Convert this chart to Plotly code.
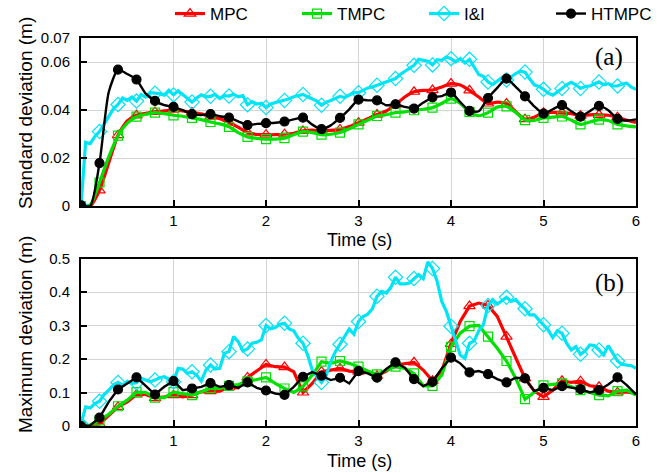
import plotly.graph_objects as go

# ---------------- data ----------------
# time grids (s): controllers sampled every 0.1 s, I&I every 0.05 s
t_ctrl = [round(i * 0.1, 2) for i in range(61)]
t_ii = [round(i * 0.05, 2) for i in range(121)]

# (a) standard deviation of tracking error (m)
std_mpc = [
    0.0, 0.0, 0.0065, 0.018, 0.0295, 0.0355, 0.0378, 0.0386, 0.0392, 0.0396,
    0.0401, 0.0396, 0.039, 0.0384, 0.0372, 0.0364, 0.0348, 0.0328, 0.0307, 0.0298,
    0.0297, 0.0297, 0.0299, 0.0303, 0.0313, 0.0316, 0.0313, 0.0315, 0.0319, 0.0331,
    0.0347, 0.0364, 0.0381, 0.0396, 0.0422, 0.0454, 0.0476, 0.0482, 0.0483, 0.0496,
    0.051, 0.0504, 0.0482, 0.0454, 0.0427, 0.0433, 0.0427, 0.0393, 0.0362, 0.037,
    0.0389, 0.039, 0.0389, 0.0385, 0.0376, 0.038, 0.038, 0.0378, 0.037, 0.0357,
    0.0348,
]
std_tmpc = [
    0.0, 0.0005, 0.0098, 0.0205, 0.0293, 0.0345, 0.0372, 0.0382, 0.0389, 0.0385,
    0.0378, 0.0374, 0.0367, 0.036, 0.035, 0.0342, 0.033, 0.0306, 0.0288, 0.0282,
    0.0279, 0.0279, 0.0283, 0.0297, 0.031, 0.0306, 0.0297, 0.0299, 0.0306, 0.0322,
    0.034, 0.0357, 0.0375, 0.038, 0.0389, 0.0392, 0.0399, 0.0403, 0.041, 0.0427,
    0.0447, 0.0427, 0.0392, 0.0376, 0.0389, 0.0412, 0.0415, 0.039, 0.0358, 0.0357,
    0.0367, 0.037, 0.0373, 0.0358, 0.034, 0.035, 0.036, 0.0356, 0.034, 0.0334,
    0.033,
]
std_htmpc = [
    0.0003, 0.0, 0.0179, 0.0475, 0.0568, 0.055, 0.0527, 0.0468, 0.0438, 0.042,
    0.0413, 0.0399, 0.0383, 0.0379, 0.0383, 0.0374, 0.0368, 0.0353, 0.0337, 0.0342,
    0.0345, 0.0347, 0.0352, 0.0361, 0.0368, 0.0339, 0.032, 0.0336, 0.0367, 0.0403,
    0.0443, 0.044, 0.044, 0.042, 0.0424, 0.0413, 0.0406, 0.0431, 0.0453, 0.0458,
    0.0473, 0.0433, 0.0396, 0.0395, 0.045, 0.0492, 0.0531, 0.0496, 0.0457, 0.0415,
    0.0385, 0.0403, 0.042, 0.0395, 0.0372, 0.0395, 0.0417, 0.0399, 0.0363, 0.0356,
    0.0361,
]
std_ii = [
    0.0, 0.0265, 0.026, 0.029, 0.031, 0.0343, 0.0378, 0.0405, 0.0423, 0.045,
    0.044, 0.0454, 0.0437, 0.0464, 0.0454, 0.0472, 0.047, 0.0468, 0.0462, 0.0482,
    0.0463, 0.048, 0.0465, 0.045, 0.0433, 0.045, 0.0463, 0.0455, 0.0457, 0.0465,
    0.0448, 0.046, 0.0458, 0.0466, 0.0455, 0.046, 0.0422, 0.0435, 0.0425, 0.0428,
    0.041, 0.0425, 0.043, 0.0436, 0.044, 0.0447, 0.0455, 0.046, 0.0465, 0.0455,
    0.0447, 0.0437, 0.042, 0.0433, 0.044, 0.045, 0.0457, 0.0452, 0.0461, 0.0472,
    0.0472, 0.0482, 0.0492, 0.0496, 0.0503, 0.0513, 0.052, 0.0524, 0.0531, 0.0548,
    0.0561, 0.0572, 0.0586, 0.0611, 0.0607, 0.0603, 0.0588, 0.061, 0.0607, 0.0621,
    0.0614, 0.06, 0.0614, 0.0596, 0.0611, 0.058, 0.0548, 0.054, 0.0517, 0.0506,
    0.052, 0.0535, 0.0525, 0.054, 0.0552, 0.0562, 0.0558, 0.053, 0.0505, 0.0498,
    0.0486, 0.047, 0.0462, 0.0475, 0.049, 0.0505, 0.0515, 0.0505, 0.049, 0.0498,
    0.05, 0.0508, 0.0517, 0.0505, 0.051, 0.05, 0.05, 0.0508, 0.0512, 0.0495,
    0.0486,
]

# (b) maximum deviation of tracking error (m)
max_mpc = [
    0.0, 0.0, 0.006, 0.032, 0.057, 0.072, 0.094, 0.094, 0.083, 0.087,
    0.092, 0.087, 0.092, 0.102, 0.104, 0.104, 0.116, 0.114, 0.145, 0.165,
    0.184, 0.177, 0.176, 0.162, 0.1, 0.127, 0.162, 0.167, 0.172, 0.164,
    0.162, 0.16, 0.15, 0.164, 0.182, 0.187, 0.19, 0.167, 0.135, 0.165,
    0.245, 0.312, 0.358, 0.367, 0.36, 0.327, 0.267, 0.202, 0.142, 0.104,
    0.087, 0.107, 0.135, 0.13, 0.134, 0.12, 0.117, 0.104, 0.1, 0.102,
    0.097,
]
max_tmpc = [
    0.0, 0.003, 0.017, 0.035, 0.059, 0.077, 0.101, 0.1, 0.085, 0.085,
    0.101, 0.097, 0.092, 0.102, 0.113, 0.112, 0.12, 0.124, 0.133, 0.139,
    0.145, 0.127, 0.112, 0.1, 0.118, 0.152, 0.192, 0.187, 0.194, 0.187,
    0.177, 0.164, 0.154, 0.167, 0.177, 0.172, 0.157, 0.12, 0.12, 0.152,
    0.236, 0.277, 0.298, 0.3, 0.267, 0.232, 0.194, 0.142, 0.08, 0.102,
    0.121, 0.124, 0.127, 0.117, 0.107, 0.1, 0.092, 0.09, 0.104, 0.107,
    0.092,
]
max_htmpc = [
    0.0, 0.002, 0.025, 0.072, 0.109, 0.127, 0.145, 0.12, 0.094, 0.117,
    0.134, 0.107, 0.112, 0.117, 0.128, 0.117, 0.122, 0.114, 0.13, 0.114,
    0.106, 0.097, 0.093, 0.117, 0.147, 0.161, 0.15, 0.137, 0.144, 0.127,
    0.164, 0.157, 0.144, 0.17, 0.19, 0.174, 0.14, 0.119, 0.132, 0.172,
    0.204, 0.187, 0.16, 0.164, 0.155, 0.14, 0.13, 0.144, 0.142, 0.104,
    0.114, 0.107, 0.119, 0.114, 0.11, 0.1, 0.107, 0.124, 0.145, 0.122,
    0.094,
]
max_ii = [
    0.005, 0.057, 0.054, 0.067, 0.074, 0.094, 0.107, 0.122, 0.13, 0.122,
    0.134, 0.127, 0.129, 0.142, 0.137, 0.132, 0.137, 0.144, 0.147, 0.14,
    0.132, 0.172, 0.17, 0.157, 0.162, 0.152, 0.134, 0.167, 0.182, 0.17,
    0.172, 0.217, 0.222, 0.267, 0.252, 0.224, 0.23, 0.247, 0.25, 0.257,
    0.3, 0.29, 0.294, 0.304, 0.307, 0.29, 0.284, 0.262, 0.247, 0.212,
    0.167, 0.147, 0.13, 0.15, 0.192, 0.222, 0.244, 0.267, 0.29, 0.274,
    0.312, 0.327, 0.334, 0.35, 0.387, 0.402, 0.397, 0.414, 0.444, 0.424,
    0.424, 0.427, 0.44, 0.452, 0.44, 0.49, 0.47, 0.432, 0.372, 0.342,
    0.298, 0.257, 0.212, 0.202, 0.247, 0.254, 0.284, 0.302, 0.36, 0.377,
    0.364, 0.374, 0.384, 0.372, 0.377, 0.362, 0.35, 0.332, 0.332, 0.317,
    0.302, 0.287, 0.264, 0.284, 0.277, 0.247, 0.227, 0.237, 0.214, 0.224,
    0.242, 0.24, 0.227, 0.212, 0.24, 0.217, 0.194, 0.184, 0.182, 0.18,
    0.172,
]

names = ["MPC", "TMPC", "I&I", "HTMPC"]
y_ticks_a = [0, 0.02, 0.04, 0.06, 0.07]
y_ticks_b = [0, 0.1, 0.2, 0.3, 0.4, 0.5]
x_ticks = [1, 2, 3, 4, 5, 6]

# ---------------- styling ----------------
W, H = 657, 475
FONT = "Liberation Sans"
styles = {
    "MPC": dict(color="#ff0000", symbol="triangle-up-open", size=10, lw=3.2),
    "TMPC": dict(color="#00e000", symbol="square-open", size=9, lw=3.2),
    "I&I": dict(color="#00e5f5", symbol="diamond-open", size=11, lw=3.2),
    "HTMPC": dict(color="#000000", symbol="circle", size=9, lw=2.4),
}


def px_x(p):
    return p / W


def px_y(p):
    return 1 - p / H


fig = go.Figure()


def add_series(name, t, y, every, xa, ya, smooth):
    st = styles[name]
    line = dict(color=st["color"], width=st["lw"])
    if smooth:
        line.update(shape="spline", smoothing=0.6)
    fig.add_trace(go.Scatter(
        x=t, y=y, mode="lines", line=line, xaxis=xa, yaxis=ya,
        showlegend=False, hoverinfo="skip", legendgroup=name))
    idx = list(range(0, len(t) - 1, every))
    marker = dict(symbol=st["symbol"], size=st["size"], color=st["color"],
                  line=dict(color=st["color"], width=1.2))
    fig.add_trace(go.Scatter(
        x=[t[i] for i in idx], y=[y[i] for i in idx], mode="markers",
        marker=marker, xaxis=xa, yaxis=ya, showlegend=False,
        legendgroup=name, cliponaxis=True))


panel_a = {"MPC": std_mpc, "TMPC": std_tmpc, "I&I": std_ii, "HTMPC": std_htmpc}
panel_b = {"MPC": max_mpc, "TMPC": max_tmpc, "I&I": max_ii, "HTMPC": max_htmpc}

for name in names:
    t = t_ii if name == "I&I" else t_ctrl
    every = 4 if name == "I&I" else 2
    add_series(name, t, panel_a[name], every, "x", "y", name != "I&I")
for name in names:
    t = t_ii if name == "I&I" else t_ctrl
    every = 4 if name == "I&I" else 2
    add_series(name, t, panel_b[name], every, "x2", "y2", False)

# legend entries (line + marker sample)
for name in names:
    st = styles[name]
    fig.add_trace(go.Scatter(
        x=[None], y=[None], mode="lines+markers", name=name,
        line=dict(color=st["color"], width=st["lw"]),
        marker=dict(symbol=st["symbol"], size=st["size"], color=st["color"],
                    line=dict(color=st["color"], width=1.2)),
        legendgroup=name, xaxis="x", yaxis="y"))

axis_common = dict(
    range=[0, 6], showline=True, mirror=True, linecolor="black", linewidth=2,
    showgrid=True, gridcolor="#d4d4d4", gridwidth=1, zeroline=False,
    ticks="inside", ticklen=6, tickcolor="black", tickwidth=1.5,
    tickfont=dict(family=FONT, size=15, color="black"),
)

x_dom = [px_x(81), px_x(636)]
fig.update_layout(
    width=W, height=H,
    margin=dict(l=0, r=0, t=0, b=0, autoexpand=False),
    paper_bgcolor="white", plot_bgcolor="white",
    font=dict(family=FONT, color="black"),
    xaxis=dict(axis_common, domain=x_dom, anchor="y", tickvals=x_ticks,
               ticklabelstandoff=0),
    yaxis=dict(axis_common, domain=[px_y(206), px_y(38)], anchor="x",
               range=[0, 0.07], tickvals=y_ticks_a,
               ticktext=[f"{v:g}" for v in y_ticks_a], ticklabelstandoff=6),
    xaxis2=dict(axis_common, domain=x_dom, anchor="y2", tickvals=x_ticks,
                ticklabelstandoff=0),
    yaxis2=dict(axis_common, domain=[px_y(426), px_y(258.5)], anchor="x2",
                range=[0, 0.5], tickvals=y_ticks_b,
                ticktext=[f"{v:g}" for v in y_ticks_b], ticklabelstandoff=6),
    legend=dict(orientation="h", x=px_x(170), y=px_y(14), xanchor="left",
                yanchor="middle", font=dict(family=FONT, size=17, color="black"),
                entrywidth=82, bgcolor="rgba(0,0,0,0)", tracegroupgap=0,
                itemsizing="trace"),
)

annots = [
    dict(text="Time (s)", x=px_x(359), y=px_y(240), font_size=18),
    dict(text="Time (s)", x=px_x(359), y=px_y(461), font_size=18),
    dict(text="Standard deviation (m)", x=px_x(25), y=px_y(113), font_size=19,
         textangle=-90),
    dict(text="Maximum deviation (m)", x=px_x(25), y=px_y(335), font_size=19,
         textangle=-90),
    dict(text="(a)", x=px_x(609), y=px_y(57), font_size=25,
         font_family="Liberation Serif"),
    dict(text="(b)", x=px_x(609), y=px_y(283), font_size=25,
         font_family="Liberation Serif"),
]
for a in annots:
    fig.add_annotation(
        text=a["text"], x=a["x"], y=a["y"], xref="paper", yref="paper",
        xanchor="center", yanchor="middle", showarrow=False,
        textangle=a.get("textangle", 0),
        font=dict(family=a.get("font_family", FONT), size=a["font_size"],
                  color="black"))

fig.write_html("out.html")
